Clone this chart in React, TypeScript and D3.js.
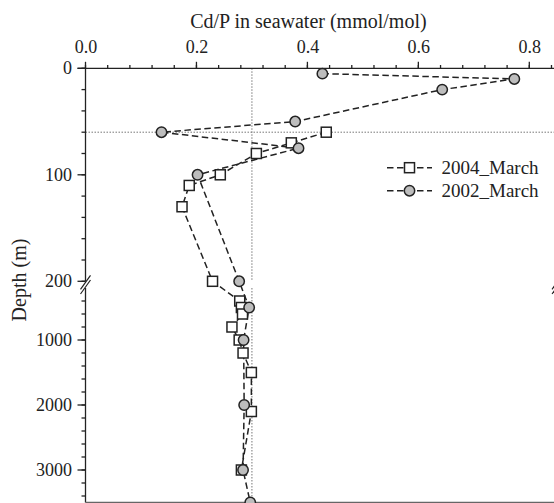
import * as d3 from 'd3'

// Cd/P profiles (mmol/mol) vs depth (m)
const depth2004 = [60, 70, 80, 100, 110, 130, 200, 400, 500, 600, 800, 1000, 1200, 1500, 2100, 3000]
const cdp2004 = [0.434, 0.371, 0.308, 0.243, 0.187, 0.174, 0.229, 0.278, 0.281, 0.283, 0.264, 0.277, 0.284, 0.299, 0.299, 0.281]

const depth2002 = [5, 10, 20, 50, 60, 75, 100, 200, 500, 1000, 2000, 3000, 3500]
const cdp2002 = [0.427, 0.773, 0.643, 0.378, 0.137, 0.384, 0.202, 0.277, 0.295, 0.285, 0.286, 0.284, 0.297]

const xMajor = [0, 0.2, 0.4, 0.6, 0.8]
const xMinor = d3.range(0, 0.85, 0.04)
const yMajorTop = [0, 100, 200]
const yMinorTop = d3.range(0, 201, 20)
const yMajorBottom = [1000, 2000, 3000]
const yMinorBottom = d3.range(400, 3500, 200)

const refCdP = 0.3
const refDepth = 60

const W = 554
const H = 503
const FONT = '"Liberation Serif", "Times New Roman", serif'
const INK = '#222'

const x = d3.scaleLinear().domain([0, 0.8]).range([85.5, 529.3])
const yTop = d3.scaleLinear().domain([0, 200]).range([68.3, 281.3])
const yBottom = d3.scaleLinear().domain([200, 3500]).range([288, 502.5])
const y = (d: number) => (d <= 200 ? yTop(d) : yBottom(d))

const x0 = x(0)
const x1 = x(0.85)

function pts(depths: number[], vals: number[]) {
  return depths.map((d, i) => [x(vals[i]), y(d)] as [number, number])
}

const line = d3.line()

function BreakMark({ cx }: { cx: number }) {
  return (
    <g stroke={INK} strokeWidth={1.2}>
      <line x1={cx - 5} y1={yTop(200) + 8} x2={cx + 5} y2={yTop(200) - 6} />
      <line x1={cx - 5} y1={yBottom(200) + 6} x2={cx + 5} y2={yBottom(200) - 8} />
    </g>
  )
}

export default function App() {
  const p2004 = pts(depth2004, cdp2004)
  const p2002 = pts(depth2002, cdp2002)
  const dash = '6.5,3.5'

  return (
    <svg
      width={W}
      height={H}
      style={{ position: 'absolute', left: 0, top: 0, background: '#fff' }}
      fontFamily={FONT}
    >
      {/* titles */}
      <text x={x(0.4) + 1} y={28} textAnchor="middle" fontSize={20} fill={INK}>
        Cd/P in seawater (mmol/mol)
      </text>
      <text transform="translate(26,280) rotate(-90)" textAnchor="middle" fontSize={20} fill={INK}>
        Depth (m)
      </text>

      {/* reference lines */}
      <g stroke="#777" strokeWidth={1} strokeDasharray="1.5,1.5" fill="none">
        <line x1={x0} x2={x1} y1={yTop(refDepth)} y2={yTop(refDepth)} />
        <line x1={x(refCdP)} x2={x(refCdP)} y1={yTop(0)} y2={yTop(200)} />
        <line x1={x(refCdP)} x2={x(refCdP)} y1={yBottom(200)} y2={yBottom(3500)} />
      </g>

      {/* top axis */}
      <g stroke={INK} strokeWidth={1.3}>
        <line x1={x0 - 8} x2={x1} y1={yTop(0)} y2={yTop(0)} />
        {xMinor.map((v) => (
          <line key={'xm' + v} x1={x(v)} x2={x(v)} y1={yTop(0)} y2={yTop(0) - 3.3} />
        ))}
        {xMajor.map((v) => (
          <line key={'xM' + v} x1={x(v)} x2={x(v)} y1={yTop(0)} y2={yTop(0) - 6.5} />
        ))}
      </g>
      {xMajor.map((v) => (
        <text key={'xl' + v} x={x(v) + 0.5} y={53} textAnchor="middle" fontSize={18} fill={INK}>
          {d3.format('.1f')(v)}
        </text>
      ))}

      {/* left axis, two segments */}
      <g stroke={INK} strokeWidth={1.3}>
        <line x1={x0} x2={x0} y1={yTop(0)} y2={yTop(200)} />
        <line x1={x0} x2={x0} y1={yBottom(200)} y2={yBottom(3500)} />
        {yMinorTop.map((d) => (
          <line key={'ytm' + d} x1={x0 - 4} x2={x0} y1={yTop(d)} y2={yTop(d)} />
        ))}
        {yMajorTop.map((d) => (
          <line key={'ytM' + d} x1={x0 - 8} x2={x0} y1={yTop(d)} y2={yTop(d)} />
        ))}
        {yMinorBottom.map((d) => (
          <line key={'ybm' + d} x1={x0 - 4} x2={x0} y1={yBottom(d)} y2={yBottom(d)} />
        ))}
        {yMajorBottom.map((d) => (
          <line key={'ybM' + d} x1={x0 - 8} x2={x0} y1={yBottom(d)} y2={yBottom(d)} />
        ))}
      </g>
      {yMajorTop.map((d) => (
        <text key={'ytl' + d} x={72} y={yTop(d)} dy="0.34em" textAnchor="end" fontSize={18} fill={INK}>
          {d}
        </text>
      ))}
      {yMajorBottom.map((d) => (
        <text key={'ybl' + d} x={72} y={yBottom(d)} dy="0.34em" textAnchor="end" fontSize={18} fill={INK}>
          {d}
        </text>
      ))}

      {/* right + bottom frame */}
      <line x1={x0} x2={x1} y1={yBottom(3500)} y2={yBottom(3500)} stroke="#666" strokeWidth={1.3} />
      <g stroke={INK} strokeWidth={1.3}>
        <line x1={x1} x2={x1} y1={yTop(0)} y2={yTop(200)} />
        <line x1={x1} x2={x1} y1={yBottom(200)} y2={yBottom(3500)} />
      </g>
      <BreakMark cx={x0} />
      <BreakMark cx={x1} />

      {/* profiles */}
      <g fill="none" stroke={INK} strokeWidth={1.5} strokeDasharray={dash}>
        <path d={line(p2004) ?? ''} />
        <path d={line(p2002) ?? ''} />
      </g>
      <g stroke={INK} strokeWidth={1.5}>
        {p2004.map(([px, py], i) => (
          <rect key={'s' + i} x={px - 5} y={py - 5} width={10} height={10} fill="#fff" />
        ))}
        {p2002.map(([px, py], i) => (
          <circle key={'c' + i} cx={px} cy={py} r={5.2} fill="#bdbdbd" />
        ))}
      </g>

      {/* legend */}
      <g stroke={INK} strokeWidth={1.5}>
        <line x1={387} x2={432} y1={167.7} y2={167.7} strokeDasharray={dash} />
        <rect x={409.5 - 5} y={167.7 - 5} width={10} height={10} fill="#fff" />
        <line x1={387} x2={432} y1={190.7} y2={190.7} strokeDasharray={dash} />
        <circle cx={409.5} cy={190.7} r={5.2} fill="#bdbdbd" />
      </g>
      <text x={441.5} y={167.7} dy="0.32em" fontSize={19} fill={INK}>
        2004_March
      </text>
      <text x={441.5} y={190.7} dy="0.32em" fontSize={19} fill={INK}>
        2002_March
      </text>
    </svg>
  )
}
